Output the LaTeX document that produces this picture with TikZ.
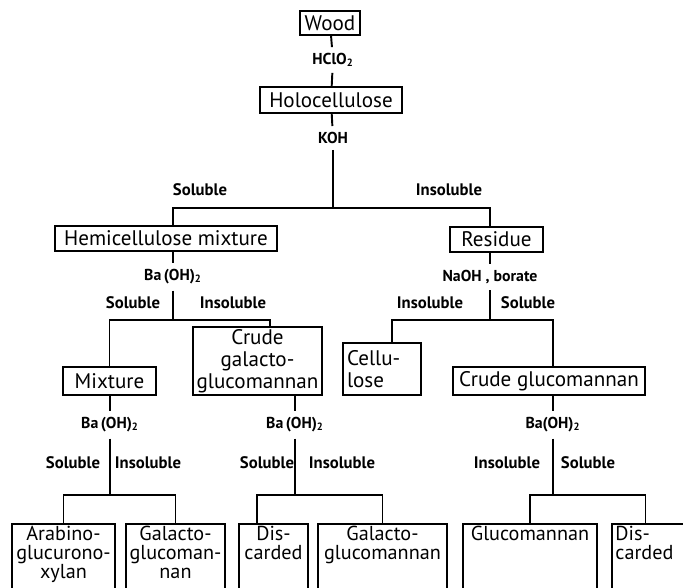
\documentclass[tikz,border=0pt]{standalone}
\usepackage{fontspec}
\setmainfont{PT Sans}
\usetikzlibrary{positioning}

\tikzset{
  stage/.style={draw, line width=1.1pt, inner sep=0pt, align=center,
    font=\fontsize{12}{12.5}\selectfont},
  boxsize/.style 2 args={minimum width=#1*0.02cm, minimum height=#2*0.02cm},
  fraction/.style={stage, anchor=north, inner ysep=1pt, text depth=2cm,
    font=\fontsize{11.5}{11}\selectfont},
  reagent/.style={inner sep=3pt, font=\fontsize{9}{10}\selectfont\bfseries},
  phase/.style={inner sep=0pt, font=\fontsize{9.5}{10}\selectfont\bfseries},
}

\begin{document}
\begin{tikzpicture}[x=0.02cm, y=-0.02cm, line width=1.1pt]
    \clip (0,0) rectangle (683,588);

    % Wood to hemicellulose / residue
    \node[stage, boxsize={60}{24}] (wood) at (330,23) {Wood};
    \node[reagent] (hclo) at (333,60) {HClO\textsubscript{2}};
    \node[stage, boxsize={142}{26}] (holo) at (331,100) {Holocellulose};
    \node[reagent] (koh) at (333,138) {KOH};
    \coordinate (kohsplit) at (333,208);
    \node[phase] (sol1) at (200,190) {Soluble};
    \node[phase] (insol1) at (449,190) {Insoluble};
    \node[stage, boxsize={222}{25}] (hemi) at (166,238.5) {Hemicellulose mixture};
    \node[stage, boxsize={93}{25}] (residue) at (496.5,239.5) {Residue};

    \draw (wood) -- (hclo);
    \draw (hclo) -- (holo);
    \draw (holo) -- (koh);
    \draw (koh) -- (kohsplit);

    % Hemicellulose branch
    \node[reagent] (ba1) at (173,277) {Ba\,(OH)\textsubscript{2}};
    \coordinate (ba1split) at (173,320);
    \node[phase] (sol2) at (133,303) {Soluble};
    \node[phase] (insol2) at (233,303) {Insoluble};
    \node[stage, boxsize={93}{28}] (mixture) at (109.5,381) {Mixture};
    \node[stage, boxsize={129}{68}] (crudegal) at (257.5,361) {Crude\\galacto-\\glucomannan};

    % Residue branch
    \node[reagent] (naoh) at (490,277) {NaOH , borate};
    \coordinate (naohsplit) at (490,320);
    \node[phase] (insol3) at (430,303) {Insoluble};
    \node[phase] (sol3) at (528,303) {Soluble};
    \node[stage, boxsize={78}{52}, text width=1.4cm, align=left] (cellulose) at (382,369) {Cellu-\\lose};
    \node[stage, boxsize={192}{28}] (crudegluc) at (549,381) {Crude glucomannan};

    \draw (hemi.north -| ba1) |- (kohsplit) -| (residue.north -| naoh);
    \draw (hemi.south -| ba1) -- (ba1);
    \draw (ba1) -- (ba1split);
    \draw (mixture.north) |- (ba1split) -| ([xshift=0.25cm]crudegal.north);
    \draw (residue.south -| naoh) -- (naoh);
    \draw (naoh) -- (naohsplit);
    \draw ([xshift=0.2cm]cellulose.north) |- (naohsplit) -| ([xshift=0.08cm]crudegluc.north);

    % Mixture
    \node[reagent] (ba2) at (110,425) {Ba\,(OH)\textsubscript{2}};
    \coordinate (ba2split) at (110,495);
    \node[phase] (sol4) at (73,463) {Soluble};
    \node[phase] (insol4) at (148,463) {Insoluble};
    \node[fraction, boxsize={103}{0}] (arabino) at (63.5,523) {Arabino-\\glucurono-\\xylan};
    \node[fraction, boxsize={99}{0}] (galman) at (175.5,523) {Galacto-\\glucoman-\\nan};
    \draw (mixture.south -| ba2) -- (ba2);
    \draw (ba2) -- (ba2split);
    \draw (arabino.north) |- (ba2split) -| (galman.north);

    % Crude galactoglucomannan
    \node[reagent] (ba3) at (295,425) {Ba\,(OH)\textsubscript{2}};
    \coordinate (ba3split) at (295,495);
    \node[phase] (sol5) at (267,463) {Soluble};
    \node[phase] (insol5) at (342,463) {Insoluble};
    \node[fraction, boxsize={69}{0}] (discard1) at (273.5,523) {Dis-\\carded};
    \node[fraction, boxsize={129}{0}] (galgluc) at (382.5,523) {Galacto-\\glucomannan};
    \draw (crudegal.south -| ba3) -- (ba3);
    \draw (ba3) -- (ba3split);
    \draw ([xshift=-0.33cm]discard1.north) |- (ba3split) -| (galgluc.north);

    % Crude glucomannan
    \node[reagent] (ba4) at (553,425) {Ba(OH)\textsubscript{2}};
    \coordinate (ba4split) at (553,495);
    \node[phase] (insol6) at (507,463) {Insoluble};
    \node[phase] (sol6) at (588,463) {Soluble};
    \node[fraction, boxsize={134}{0}] (glucomannan) at (530,523) {Glucomannan};
    \node[fraction, anchor=north west, inner xsep=2pt, text width=1.6cm, align=left] (discard2) at (611,523) {Dis-\\carded};
    \draw (crudegluc.south -| ba4) -- (ba4);
    \draw (ba4) -- (ba4split);
    \draw (glucomannan.north) |- (ba4split) -| ([xshift=-0.2cm]discard2.north);
\end{tikzpicture}
\end{document}
